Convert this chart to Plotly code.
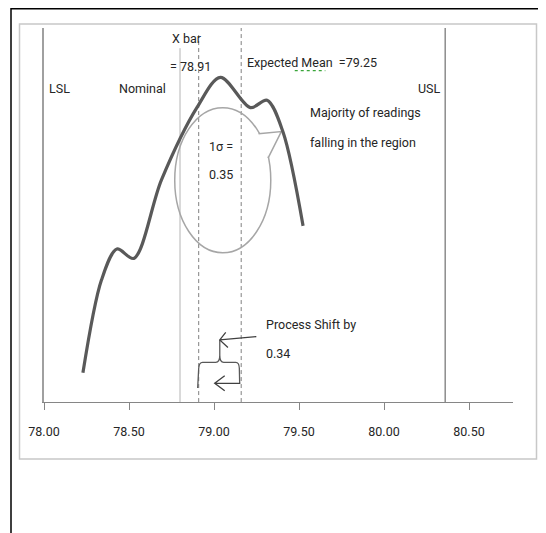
import plotly.graph_objects as go

# ---- data ----
curve_x = [78.229, 78.338, 78.429, 78.528, 78.691, 78.902, 79.038, 79.214, 79.312, 79.406, 79.524]
curve_y = [7.8, 32.6, 40.9, 38.4, 59.4, 78.9, 86.8, 78.7, 80.7, 72.2, 47.1]

LSL = 78.00
NOMINAL = 78.80
XBAR = 78.91
EXPECTED_LINE = 79.16
USL = 80.36

tick_vals = [78.0, 78.5, 79.0, 79.5, 80.0, 80.5]
tick_text = ["78.00", "78.50", "79.00", "79.50", "80.00", "80.50"]

FONT = "Roboto, Liberation Sans, sans-serif"
TXT = "#262626"
FS = 12.5

OFF = 8  # browser body margin
W, H = 546 - OFF, 533 - OFF
L, R, T, B = 44 - OFF, 33, 28 - OFF, 131
pw, ph = W - L - R, H - T - B

fig = go.Figure()
fig.add_trace(go.Scatter(x=curve_x, y=curve_y, mode="lines",
                         line=dict(color="#595959", width=3.2, shape="spline", smoothing=0.9),
                         hoverinfo="skip", showlegend=False))


def px(xp):  # window pixel x -> paper
    return (xp - OFF - L) / pw


def py(yp):  # window pixel y -> paper
    return (H - B - (yp - OFF)) / ph


shapes = []
# outer black frame
shapes.append(dict(type="rect", xref="paper", yref="paper", x0=px(11), x1=px(570),
                   y0=py(570), y1=py(8.8), line=dict(color="#000000", width=1.5), layer="below"))
# inner grey chart box
shapes.append(dict(type="rect", xref="paper", yref="paper", x0=px(19.5), x1=px(536.5),
                   y0=py(459), y1=py(24), line=dict(color="#c8c8c8", width=1.5), layer="below"))

# vertical reference lines
shapes.append(dict(type="line", xref="x", yref="y", x0=USL, x1=USL, y0=-0.5, y1=100,
                   line=dict(color="#8c8c8c", width=1.5), layer="below"))
shapes.append(dict(type="line", xref="x", yref="y", x0=NOMINAL, x1=NOMINAL, y0=0, y1=94.6,
                   line=dict(color="#b4b4b4", width=1), layer="below"))
shapes.append(dict(type="line", xref="x", yref="y", x0=XBAR, x1=XBAR, y0=-7.5, y1=98.1,
                   line=dict(color="#808080", width=1, dash="4px,3px"), layer="below"))
shapes.append(dict(type="line", xref="x", yref="y", x0=EXPECTED_LINE, x1=EXPECTED_LINE, y0=-7.5, y1=100,
                   line=dict(color="#808080", width=1, dash="4px,3px"), layer="below"))

# callout ellipse + wedge
shapes.append(dict(type="circle", xref="x", yref="y", x0=78.769, x1=79.334, y0=39.9, y1=78.7,
                   line=dict(color="#a6a6a6", width=1.5), layer="below"))
shapes.append(dict(type="path", xref="x", yref="y",
                   path="M 79.262,71.7 L 79.396,72.3 L 79.318,65.2 Z",
                   fillcolor="white", line=dict(width=0), layer="below"))
shapes.append(dict(type="path", xref="x", yref="y",
                   path="M 79.262,71.7 L 79.396,72.3 L 79.318,65.2",
                   line=dict(color="#a6a6a6", width=1.5), layer="below"))

# bracket
shapes.append(dict(type="path", xref="x", yref="y",
                   path=("M 78.904,3.74 L 78.910,9.0 Q 78.912,10.6 78.933,10.6 L 79.010,10.6 "
                         "Q 79.034,10.6 79.034,12.5 L 79.034,16.6 M 79.034,12.5 Q 79.034,10.6 79.057,10.6 "
                         "L 79.128,10.6 Q 79.148,10.6 79.149,9.0 L 79.151,5.1"),
                   line=dict(color="#595959", width=1.3), layer="below"))
# arrows
shapes.append(dict(type="path", xref="x", yref="y",
                   path="M 79.249,17.5 L 79.034,16.6 M 79.069,18.6 L 79.034,16.6 L 79.082,14.6",
                   line=dict(color="#404040", width=1.3), layer="below"))
shapes.append(dict(type="path", xref="x", yref="y",
                   path="M 79.155,5.0 L 79.004,5.0 M 79.063,7.0 L 79.004,5.0 L 79.063,3.0",
                   line=dict(color="#404040", width=1.3), layer="below"))
# green spell-check squiggle under "Mean"
shapes.append(dict(type="line", xref="x", yref="y", x0=79.475, x1=79.655, y0=88.6, y1=88.6,
                   line=dict(color="#3aa53a", width=1.2, dash="dot"), layer="below"))

texts = [
    ("LSL", 78.015, 83.7, "left"),
    ("Nominal", 78.581, 83.7, "center"),
    ("USL", 80.266, 83.7, "center"),
    ("X bar", 78.839, 97.3, "center"),
    ("= 78.91", 78.863, 89.6, "center"),
    ("Expected Mean  =79.25", 79.181, 90.9, "left"),
    ("Majority of readings", 79.551, 77.3, "left"),
    ("falling in the region", 79.551, 69.5, "left"),
    ("1σ =", 78.957, 68.2, "left"),
    ("0.35", 78.957, 60.7, "left"),
    ("Process Shift by", 79.292, 20.6, "left"),
    ("0.34", 79.292, 13.1, "left"),
]
annotations = [dict(text=t, x=x, y=y, xref="x", yref="y", xanchor=a, yanchor="middle",
                    showarrow=False, font=dict(family=FONT, size=FS, color=TXT))
               for t, x, y, a in texts]

fig.update_layout(
    width=W, height=H,
    margin=dict(l=L, r=R, t=T, b=B, pad=0),
    paper_bgcolor="white", plot_bgcolor="white",
    showlegend=False,
    shapes=shapes,
    annotations=annotations,
    xaxis=dict(range=[78.0, 78.0 + pw / 170.0], tickvals=tick_vals, ticktext=tick_text,
               showgrid=False, zeroline=False, showline=True, linecolor="#868686", linewidth=1.3,
               ticks="outside", ticklen=7, tickcolor="#868686", tickwidth=1,
               ticklabelstandoff=11,
               tickfont=dict(family=FONT, size=FS, color=TXT), fixedrange=True),
    yaxis=dict(range=[0, 100], showgrid=False, zeroline=False, showline=True, linecolor="#a0a0a0",
               linewidth=1.5, showticklabels=False, ticks="", fixedrange=True),
)

fig.write_html("out.html")
